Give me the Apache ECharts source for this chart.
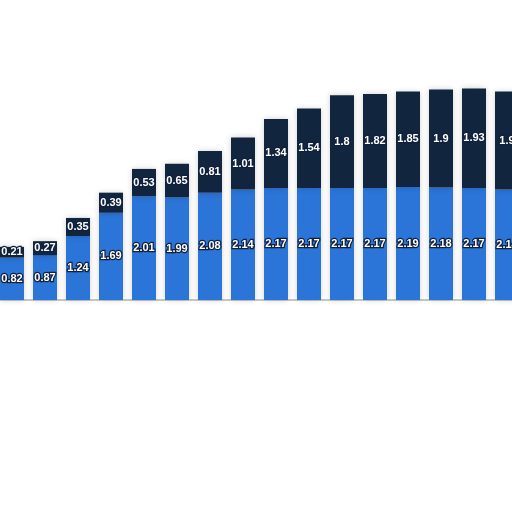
<!DOCTYPE html>
<html>
<head>
<meta charset="utf-8">
<script src="https://cdn.jsdelivr.net/npm/echarts@6/dist/echarts.min.js"></script>
<style>html,body{margin:0;padding:0;background:#fff}#c{width:512px;height:512px}</style>
</head>
<body>
<div id="c"></div>
<script>
const categories = ['1','2','3','4','5','6','7','8','9','10','11','12','13','14','15','16'];
const lowerValues = [0.82, 0.87, 1.24, 1.69, 2.01, 1.99, 2.08, 2.14, 2.17, 2.17, 2.17, 2.17, 2.19, 2.18, 2.17, 2.14];
const upperValues = [0.21, 0.27, 0.35, 0.39, 0.53, 0.65, 0.81, 1.01, 1.34, 1.54, 1.8, 1.82, 1.85, 1.9, 1.93, 1.9];

const labelStyle = {
  show: true,
  position: 'inside',
  color: '#ffffff',
  fontSize: 11,
  fontWeight: 'bold',
  fontFamily: 'Liberation Sans',
  textBorderColor: '#10203a',
  textBorderWidth: 2.5
};

const chart = echarts.init(document.getElementById('c'), null, {renderer: 'canvas'});
chart.setOption({
  animation: false,
  backgroundColor: '#ffffff',
  grid: {left: -4.5, width: 528, top: 42, height: 258, containLabel: false, outerBoundsMode: 'none'},
  xAxis: {
    type: 'category',
    data: categories,
    axisLine: {show: true, lineStyle: {color: '#c8c8c8', width: 2}},
    axisTick: {show: false},
    axisLabel: {show: false}
  },
  yAxis: {
    type: 'value',
    min: 0,
    max: 5,
    show: false,
    splitLine: {show: false}
  },
  series: [
    {
      type: 'bar',
      stack: 'total',
      data: lowerValues,
      barWidth: 24,
      itemStyle: {color: '#2b74d8', shadowColor: 'rgba(0,0,0,0.18)', shadowBlur: 6},
      label: labelStyle
    },
    {
      type: 'bar',
      stack: 'total',
      data: upperValues,
      barWidth: 24,
      itemStyle: {color: '#12253f', shadowColor: 'rgba(0,0,0,0.18)', shadowBlur: 6},
      label: labelStyle
    }
  ]
});
</script>
</body>
</html>
